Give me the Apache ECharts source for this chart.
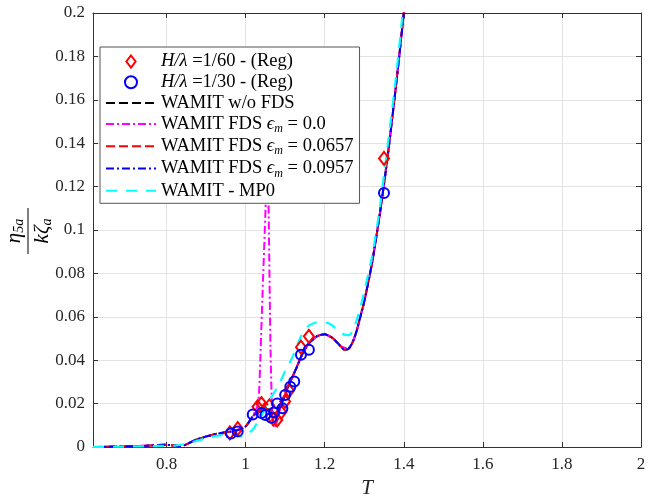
<!DOCTYPE html>
<html>
<head>
<meta charset="utf-8">
<script src="https://cdn.jsdelivr.net/npm/echarts@6/dist/echarts.min.js"></script>
<style>html,body{margin:0;padding:0;background:#fff}#c{width:656px;height:496px}</style>
</head>
<body>
<div id="c"></div>
<script>
// ---- data ----
var xTicks = [0.8, 1, 1.2, 1.4, 1.6, 1.8, 2];
var yTicks = [0, 0.02, 0.04, 0.06, 0.08, 0.1, 0.12, 0.14, 0.16, 0.18, 0.2];

var seriesNames = [
  'H/λ =1/60 - (Reg)',
  'H/λ =1/30 - (Reg)',
  'WAMIT w/o FDS',
  'WAMIT FDS ϵm = 0.0',
  'WAMIT FDS ϵm = 0.0657',
  'WAMIT FDS ϵm = 0.0957',
  'WAMIT - MP0'
];

// experiment H/lambda = 1/60
var exp60T = [0.96, 0.98, 1.03, 1.04, 1.06, 1.07, 1.08, 1.09, 1.10, 1.11, 1.14, 1.16, 1.35];
var exp60V = [0.0065, 0.0085, 0.0185, 0.0200, 0.0190, 0.0130, 0.0125, 0.0160, 0.0210, 0.0260, 0.0460, 0.0510, 0.1330];
// experiment H/lambda = 1/30
var exp30T = [0.963, 0.98, 1.018, 1.04, 1.05, 1.065, 1.072, 1.08, 1.093, 1.10, 1.113, 1.123, 1.14, 1.16, 1.35];
var exp30V = [0.0062, 0.0072, 0.0150, 0.0157, 0.0148, 0.0135, 0.0160, 0.0200, 0.0178, 0.0240, 0.0278, 0.0302, 0.0425, 0.0448, 0.1170];

// WAMIT curves sharing the same periods
var mainT = [0.614, 0.65, 0.70, 0.75, 0.78, 0.80, 0.82, 0.835, 0.85, 0.87, 0.90, 0.93, 0.96, 0.98, 1.00, 1.02, 1.04, 1.05, 1.06, 1.07, 1.08, 1.09, 1.10, 1.11, 1.12, 1.13, 1.14, 1.15, 1.16, 1.18, 1.20, 1.22, 1.24, 1.25, 1.26, 1.27, 1.28, 1.29, 1.30, 1.32, 1.34, 1.36, 1.38, 1.40, 1.42];
var noFdsV = [0.0000, 0.0001, 0.0003, 0.0006, 0.0009, 0.0010, 0.0007, 0.0003, 0.0012, 0.0030, 0.0048, 0.0062, 0.0070, 0.0078, 0.0095, 0.0145, 0.0170, 0.0175, 0.0172, 0.0168, 0.0172, 0.0200, 0.0240, 0.0290, 0.0330, 0.0370, 0.0415, 0.0450, 0.0478, 0.0510, 0.0520, 0.0502, 0.0465, 0.0448, 0.0452, 0.0480, 0.0530, 0.0600, 0.0670, 0.0850, 0.1080, 0.1350, 0.1660, 0.2000, 0.2400];
var fds0657V = [0.0000, 0.0001, 0.0003, 0.0006, 0.0009, 0.0010, 0.0007, 0.0003, 0.0012, 0.0030, 0.0048, 0.0062, 0.0070, 0.0078, 0.0095, 0.0145, 0.0180, 0.0205, 0.0180, 0.0135, 0.0145, 0.0195, 0.0240, 0.0290, 0.0330, 0.0370, 0.0415, 0.0450, 0.0478, 0.0510, 0.0520, 0.0502, 0.0465, 0.0448, 0.0452, 0.0480, 0.0530, 0.0600, 0.0670, 0.0850, 0.1080, 0.1350, 0.1660, 0.2000, 0.2400];
var fds0957V = [0.0000, 0.0001, 0.0003, 0.0006, 0.0009, 0.0010, 0.0007, 0.0003, 0.0012, 0.0030, 0.0048, 0.0062, 0.0070, 0.0078, 0.0095, 0.0145, 0.0168, 0.0180, 0.0172, 0.0155, 0.0160, 0.0198, 0.0240, 0.0290, 0.0330, 0.0370, 0.0415, 0.0450, 0.0478, 0.0510, 0.0520, 0.0502, 0.0465, 0.0448, 0.0452, 0.0480, 0.0530, 0.0600, 0.0670, 0.0850, 0.1080, 0.1350, 0.1660, 0.2000, 0.2400];

// FDS eps = 0.0 (resonance spike)
var fds0T = [0.614, 0.70, 0.80, 0.835, 0.87, 0.90, 0.96, 1.00, 1.02, 1.03, 1.034, 1.038, 1.044, 1.051, 1.054, 1.056, 1.058, 1.063, 1.068, 1.073, 1.078, 1.085, 1.09, 1.10, 1.12, 1.14, 1.16, 1.18, 1.20, 1.22, 1.24, 1.26, 1.28, 1.30, 1.32, 1.34, 1.36, 1.38, 1.40, 1.42];
var fds0V = [0.0000, 0.0003, 0.0010, 0.0003, 0.0030, 0.0048, 0.0070, 0.0095, 0.0150, 0.0190, 0.0250, 0.0450, 0.0770, 0.1140, 0.1550, 0.1600, 0.1140, 0.0450, 0.0120, 0.0088, 0.0110, 0.0160, 0.0200, 0.0240, 0.0330, 0.0415, 0.0478, 0.0510, 0.0520, 0.0502, 0.0465, 0.0452, 0.0530, 0.0670, 0.0850, 0.1080, 0.1350, 0.1660, 0.2000, 0.2400];

// MP0
var mp0T = [0.614, 0.70, 0.78, 0.82, 0.85, 0.88, 0.91, 0.94, 0.97, 0.99, 1.00, 1.02, 1.04, 1.06, 1.085, 1.10, 1.12, 1.14, 1.16, 1.18, 1.19, 1.21, 1.23, 1.245, 1.26, 1.27, 1.28, 1.295, 1.32, 1.34, 1.36, 1.38, 1.40, 1.42];
var mp0V = [0.0000, 0.0002, 0.0005, 0.0006, 0.0015, 0.0030, 0.0045, 0.0055, 0.0056, 0.0048, 0.0050, 0.0085, 0.0145, 0.0215, 0.0290, 0.0350, 0.0420, 0.0510, 0.0560, 0.0575, 0.0577, 0.0570, 0.0545, 0.0522, 0.0515, 0.0530, 0.0580, 0.0677, 0.0880, 0.1110, 0.1400, 0.1700, 0.2050, 0.2450];

function zip(a, b) { return a.map(function (v, i) { return [v, b[i]]; }); }

var SERIF = '"Liberation Serif", "DejaVu Serif", serif';
var FS = 18.5;

var legendRich = {
  t: { fontFamily: SERIF, fontSize: FS, color: '#000', lineHeight: 20, verticalAlign: 'middle' },
  i: { fontFamily: SERIF, fontSize: FS, fontStyle: 'italic', color: '#000', lineHeight: 20, verticalAlign: 'middle' },
  s: { fontFamily: SERIF, fontSize: 12, fontStyle: 'italic', color: '#000', lineHeight: 22, verticalAlign: 'bottom' }
};
var legendFmt = {};
legendFmt[seriesNames[0]] = '{i|H/λ}{t| =1/60 - (Reg)}';
legendFmt[seriesNames[1]] = '{i|H/λ}{t| =1/30 - (Reg)}';
legendFmt[seriesNames[2]] = '{t|WAMIT w/o FDS}';
legendFmt[seriesNames[3]] = '{t|WAMIT FDS }{i|ϵ}{s|m}{t| = 0.0}';
legendFmt[seriesNames[4]] = '{t|WAMIT FDS }{i|ϵ}{s|m}{t| = 0.0657}';
legendFmt[seriesNames[5]] = '{t|WAMIT FDS }{i|ϵ}{s|m}{t| = 0.0957}';
legendFmt[seriesNames[6]] = '{t|WAMIT - MP0}';

var diamondIcon = 'path://M5,0L10,6.5L5,13L0,6.5Z';
var circleIcon = 'path://M10,5A5,5,0,1,1,0,5A5,5,0,1,1,10,5Z';
var legendData = seriesNames.map(function (n, i) {
  if (i === 0) return { name: n, icon: diamondIcon, itemStyle: { opacity: 1 } };
  if (i === 1) return { name: n, icon: circleIcon, itemStyle: { opacity: 1 } };
  return { name: n, itemStyle: { opacity: 0 } };
});

function lineSeries(name, data, color, dash, width) {
  return {
    name: name, type: 'line', data: data, showSymbol: false, symbol: 'none',
    smooth: 0.2, clip: true, animation: false,
    lineStyle: { color: color, width: width || 2, type: dash },
    itemStyle: { color: color }
  };
}

var chart = echarts.init(document.getElementById('c'), null, { renderer: 'canvas' });
var axisColor = '#333';
var option = {
  animation: false,
  backgroundColor: '#fff',
  grid: { left: 93, right: 15, top: 13, bottom: 49, containLabel: false, outerBoundsMode: 'none' },
  xAxis: [{
    type: 'value', min: 0.614, max: 2, splitNumber: 7, position: 'bottom',
    name: 'T', nameLocation: 'middle', nameGap: 28,
    nameTextStyle: { fontFamily: SERIF, fontStyle: 'italic', fontSize: 21, color: '#262626' },
    axisLine: { show: true, onZero: false, lineStyle: { color: axisColor, width: 1 } },
    axisTick: { show: true, inside: true, length: 5, customValues: xTicks, lineStyle: { color: axisColor } },
    axisLabel: { customValues: xTicks, margin: 9, fontFamily: SERIF, fontSize: 17, color: '#262626' },
    splitLine: { show: true, lineStyle: { color: '#e3e3e3', width: 1 } }
  }, {
    type: 'value', min: 0.614, max: 2, splitNumber: 7, position: 'top',
    axisLine: { show: true, onZero: false, lineStyle: { color: axisColor, width: 1 } },
    axisTick: { show: true, inside: true, length: 5, customValues: xTicks, lineStyle: { color: axisColor } },
    axisLabel: { show: false },
    splitLine: { show: false }
  }],
  yAxis: [{
    type: 'value', min: 0, max: 0.2, interval: 0.02, position: 'left',
    axisLine: { show: true, onZero: false, lineStyle: { color: axisColor, width: 1 } },
    axisTick: { show: true, inside: true, length: 5, lineStyle: { color: axisColor } },
    axisLabel: { margin: 8, fontFamily: SERIF, fontSize: 17, color: '#262626',
      customValues: yTicks },
    splitLine: { show: true, lineStyle: { color: '#e3e3e3', width: 1 } }
  }, {
    type: 'value', min: 0, max: 0.2, interval: 0.02, position: 'right',
    axisLine: { show: true, onZero: false, lineStyle: { color: axisColor, width: 1 } },
    axisTick: { show: true, inside: true, length: 5, lineStyle: { color: axisColor } },
    axisLabel: { show: false },
    splitLine: { show: false }
  }],
  legend: {
    show: true, orient: 'vertical', left: 100, top: 47,
    data: legendData,
    backgroundColor: '#fff', borderColor: '#555', borderWidth: 1, borderRadius: 0,
    padding: [5, 6, 3, 5], itemGap: 1.8, itemWidth: 50, itemHeight: 12,
    symbolKeepAspect: true,
    selectedMode: false,
    formatter: function (n) { return legendFmt[n]; },
    textStyle: { rich: legendRich }
  },
  graphic: [{
    type: 'group', x: 28, y: 231, rotation: Math.PI / 2, silent: true,
    children: [
      { type: 'text', x: 0, y: -2, style: {
          text: '{i|η}{s|5a}', align: 'center', verticalAlign: 'bottom',
          rich: {
            i: { fontFamily: SERIF, fontStyle: 'italic', fontSize: 21, fill: '#000', lineHeight: 22, verticalAlign: 'middle' },
            s: { fontFamily: SERIF, fontStyle: 'italic', fontSize: 14, fill: '#000', lineHeight: 24, verticalAlign: 'bottom' }
          } } },
      { type: 'line', shape: { x1: -23, y1: 0, x2: 23, y2: 0 }, style: { stroke: '#000', lineWidth: 1 } },
      { type: 'text', x: 0, y: 2, style: {
          text: '{i|kζ}{s|a}', align: 'center', verticalAlign: 'top',
          rich: {
            i: { fontFamily: SERIF, fontStyle: 'italic', fontSize: 21, fill: '#000', lineHeight: 22, verticalAlign: 'middle' },
            s: { fontFamily: SERIF, fontStyle: 'italic', fontSize: 14, fill: '#000', lineHeight: 24, verticalAlign: 'bottom' }
          } } }
    ]
  }],
  series: [
    {
      name: seriesNames[0], type: 'scatter', data: zip(exp60T, exp60V),
      symbol: 'diamond', symbolSize: [10, 13], z: 5,
      itemStyle: { color: 'rgba(255,255,255,0)', borderColor: '#ff0000', borderWidth: 2, opacity: 1 }
    },
    {
      name: seriesNames[1], type: 'scatter', data: zip(exp30T, exp30V),
      symbol: 'circle', symbolSize: 10, z: 5,
      itemStyle: { color: 'rgba(255,255,255,0)', borderColor: '#0000ff', borderWidth: 2, opacity: 1 }
    },
    lineSeries(seriesNames[2], zip(mainT, noFdsV), '#000000', [9, 4]),
    lineSeries(seriesNames[3], zip(fds0T, fds0V), '#ff00ff', [8, 3, 2, 3]),
    lineSeries(seriesNames[4], zip(mainT, fds0657V), '#ff0000', [9, 4]),
    lineSeries(seriesNames[5], zip(mainT, fds0957V), '#0000ff', [8, 3, 2, 3]),
    lineSeries(seriesNames[6], zip(mp0T, mp0V), '#00ffff', [11, 9], 2.2)
  ]
};
chart.setOption(option);
</script>
</body>
</html>
